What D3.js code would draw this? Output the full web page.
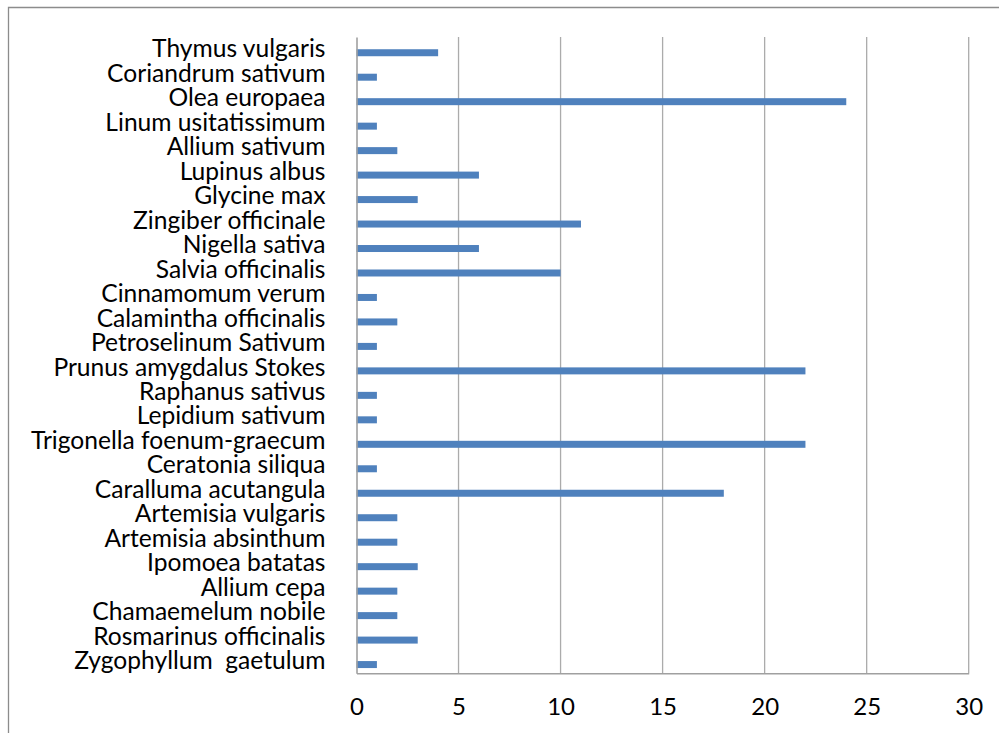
<!DOCTYPE html>
<html>
<head>
<meta charset="utf-8">
<script src="https://cdn.jsdelivr.net/npm/d3@7"></script>
<style>
  html, body { margin: 0; padding: 0; background: #fff; }
  svg { display: block; }
  text { font-family: Lato, "Open Sans", sans-serif; fill: #000; white-space: pre; }
</style>
</head>
<body>
<svg id="chart" width="999" height="733"></svg>
<script>
// Plant species, listed top to bottom
const species = [
  "Thymus vulgaris", "Coriandrum sativum", "Olea europaea", "Linum usitatissimum",
  "Allium sativum", "Lupinus albus", "Glycine max", "Zingiber officinale",
  "Nigella sativa", "Salvia officinalis", "Cinnamomum verum", "Calamintha officinalis",
  "Petroselinum Sativum", "Prunus amygdalus Stokes", "Raphanus sativus", "Lepidium sativum",
  "Trigonella foenum-graecum", "Ceratonia siliqua", "Caralluma acutangula", "Artemisia vulgaris",
  "Artemisia absinthum", "Ipomoea batatas", "Allium cepa", "Chamaemelum nobile",
  "Rosmarinus officinalis", "Zygophyllum  gaetulum"
];
// Number of citations per species
const counts = [
  4, 1, 24, 1,
  2, 6, 3, 11,
  6, 10, 1, 2,
  1, 22, 1, 1,
  22, 1, 18, 2,
  2, 3, 2, 2,
  3, 1
];
const xTicks = [0, 5, 10, 15, 20, 25, 30];
// Two series slots per category; only the second one carries values
const slots = ["empty", "counts"];

const svg = d3.select("#chart");
const plot = { left: 356.5, right: 968.7, top: 37, bottom: 673.3 };

// Outer chart frame (continues past the page edges on the right and bottom)
svg.append("path")
  .attr("d", `M8.5,740 V7.5 H1010`)
  .attr("fill", "none")
  .attr("stroke", "#8c8c8c")
  .attr("stroke-width", 1.3);

const x = d3.scaleLinear().domain([0, 30]).range([plot.left, plot.right]);
const y = d3.scaleBand().domain(species).range([plot.top, plot.bottom]).paddingInner(0).paddingOuter(0);
const ySlot = d3.scaleBand().domain(slots).range([0, y.bandwidth()]).paddingInner(0).paddingOuter(0.75);

// Vertical gridlines
svg.append("g")
  .selectAll("line")
  .data(xTicks.filter(t => t > 0))
  .join("line")
  .attr("x1", d => x(d)).attr("x2", d => x(d))
  .attr("y1", plot.top).attr("y2", plot.bottom)
  .attr("stroke", "#ababab")
  .attr("stroke-width", 1.3);

// Bars
svg.append("g")
  .selectAll("rect")
  .data(species)
  .join("rect")
  .attr("x", x(0))
  .attr("y", (d) => y(d) + ySlot("counts"))
  .attr("width", (d, i) => x(counts[i]) - x(0))
  .attr("height", ySlot.bandwidth())
  .attr("fill", "#4f81bd");

// Category axis (left)
const yAxis = d3.axisLeft(y).tickSize(0).tickPadding(31);
const gy = svg.append("g").attr("transform", `translate(${plot.left},0)`).call(yAxis);
gy.select(".domain").attr("stroke", "#a0a0a0").attr("stroke-width", 1.6);
gy.selectAll("text")
  .attr("xml:space", "preserve")
  .style("font-size", "24.6px")
  .attr("dy", "0.33em");

// Value axis (bottom)
const xAxis = d3.axisBottom(x).tickValues(xTicks).tickSize(0).tickPadding(25).tickFormat(d3.format("d"));
const gx = svg.append("g").attr("transform", `translate(0,${plot.bottom})`).call(xAxis);
gx.select(".domain").attr("stroke", "#a0a0a0").attr("stroke-width", 1.6);
gx.selectAll("text").style("font-size", "24px");
</script>
</body>
</html>
